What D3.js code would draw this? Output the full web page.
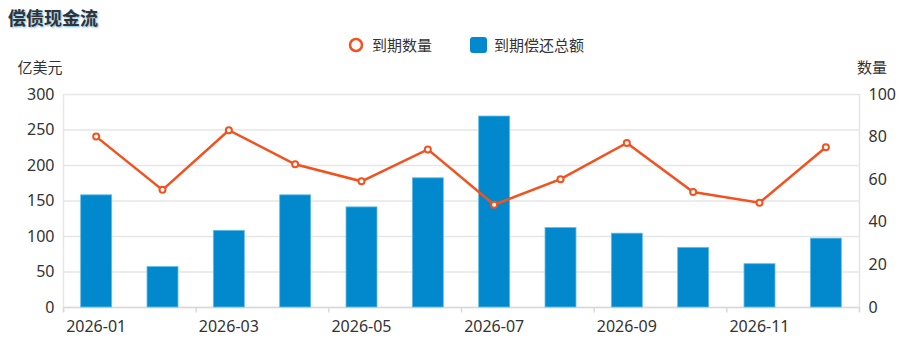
<!DOCTYPE html>
<html>
<head>
<meta charset="utf-8">
<script src="https://cdn.jsdelivr.net/npm/d3@7/dist/d3.min.js"></script>
<style>
  html, body { margin: 0; padding: 0; background: #fff; }
  svg { display: block; font-family: "Noto Sans", "Noto Sans CJK SC", sans-serif; }
</style>
</head>
<body>
<svg id="chart" width="920" height="339"></svg>
<script>
// Monthly maturities: category labels, repayment totals (亿美元) and bond counts
const months = ["2026-01","2026-02","2026-03","2026-04","2026-05","2026-06",
                "2026-07","2026-08","2026-09","2026-10","2026-11","2026-12"];
const repayTotals = [158, 57, 108, 158, 141, 182, 269, 112, 104, 84, 61, 97];
const dueCounts = [80, 55, 83, 67, 59, 74, 48, 60, 77, 54, 49, 75];
const leftTicks = [0, 50, 100, 150, 200, 250, 300];
const rightTicks = [0, 20, 40, 60, 80, 100];

const title = "偿债现金流";
const lineName = "到期数量";
const barName = "到期偿还总额";
const leftUnit = "亿美元";
const rightUnit = "数量";

const svg = d3.select("#chart");
const plot = { left: 63, right: 859, top: 94, bottom: 307 };

const x = d3.scaleBand().domain(months).range([plot.left, plot.right]).paddingInner(0).paddingOuter(0);
const yL = d3.scaleLinear().domain([0, 300]).range([plot.bottom, plot.top]);
const yR = d3.scaleLinear().domain([0, 100]).range([plot.bottom, plot.top]);

const textColor = "#333";
const gridColor = "#e6e6e6";
const barColor = "#0289cd";
const lineColor = "#f4511e";
const cjk = "'Noto Sans CJK SC', sans-serif";
const latin = "'Noto Sans', sans-serif";

// Title
svg.append("text")
  .attr("x", 8).attr("y", 25)
  .attr("font-size", 18).attr("font-weight", "bold")
  .attr("fill", "#333")
  .style("text-shadow", "1px 1px 2px rgba(60,160,215,0.75)")
  .style("font-family", cjk)
  .text(title);

// Legend
const legend = svg.append("g").style("font-family", cjk);
legend.append("circle").attr("cx", 356).attr("cy", 45).attr("r", 6)
  .attr("fill", "#fff").attr("stroke", lineColor).attr("stroke-width", 2.5);
legend.append("text").attr("x", 372).attr("y", 50.5).attr("font-size", 15)
  .attr("fill", textColor).text(lineName);
legend.append("rect").attr("x", 470).attr("y", 37).attr("width", 17).attr("height", 16).attr("rx", 3)
  .attr("fill", barColor);
legend.append("text").attr("x", 494).attr("y", 50.5).attr("font-size", 15)
  .attr("fill", textColor).text(barName);

// Axis units
svg.append("text").attr("x", 40).attr("y", 73).attr("text-anchor", "middle")
  .attr("font-size", 15).attr("fill", textColor)
  .style("font-family", cjk).text(leftUnit);
svg.append("text").attr("x", 872).attr("y", 73).attr("text-anchor", "middle")
  .attr("font-size", 15).attr("fill", textColor)
  .style("font-family", cjk).text(rightUnit);

// Horizontal grid lines
svg.append("g").selectAll("line").data(leftTicks).join("line")
  .attr("x1", plot.left).attr("x2", plot.right)
  .attr("y1", d => yL(d) + 0.5).attr("y2", d => yL(d) + 0.5)
  .attr("stroke", gridColor).attr("stroke-width", 1.5);

// Left axis
const gL = svg.append("g").attr("transform", `translate(${plot.left + 0.5},0)`)
  .call(d3.axisLeft(yL).tickValues(leftTicks).tickSize(0).tickPadding(9));
gL.select(".domain").attr("stroke", gridColor).attr("stroke-width", 1.5)
  .attr("d", `M0,${plot.top}V${plot.bottom + 5}`);
gL.selectAll("text").attr("font-size", 16).attr("fill", textColor)
  .style("font-family", latin);

// Right axis
const gR = svg.append("g").attr("transform", `translate(${plot.right + 0.5},0)`)
  .call(d3.axisRight(yR).tickValues(rightTicks).tickSize(0).tickPadding(9));
gR.select(".domain").attr("stroke", gridColor).attr("stroke-width", 1.5)
  .attr("d", `M0,${plot.top}V${plot.bottom + 5}`);
gR.selectAll("text").attr("font-size", 16).attr("fill", textColor)
  .style("font-family", latin);

// Bottom axis: ticks on every other band boundary, labels on every other band
const gB = svg.append("g").attr("transform", `translate(0,${plot.bottom + 0.5})`);
gB.append("line").attr("x1", plot.left).attr("x2", plot.right)
  .attr("stroke", "#d9d9d9").attr("stroke-width", 1.5);
const boundaryIdx = d3.range(0, months.length + 1, 2);
gB.selectAll("line.tick").data(boundaryIdx).join("line").attr("class", "tick")
  .attr("x1", i => (i < months.length ? x(months[i]) : plot.right) + 0.5)
  .attr("x2", i => (i < months.length ? x(months[i]) : plot.right) + 0.5)
  .attr("y1", 0).attr("y2", 5)
  .attr("stroke", "#d9d9d9").attr("stroke-width", 1.5);
gB.selectAll("text").data(months.filter((d, i) => i % 2 === 0)).join("text")
  .attr("x", d => x(d) + x.bandwidth() / 2).attr("y", 24)
  .attr("text-anchor", "middle").attr("font-size", 16).attr("fill", textColor)
  .style("font-family", latin)
  .text(d => d);

// Bars
const barW = 31;
svg.append("g").selectAll("rect").data(months).join("rect")
  .attr("x", d => x(d) + (x.bandwidth() - barW) / 2)
  .attr("width", barW)
  .attr("y", (d, i) => yL(repayTotals[i]))
  .attr("height", (d, i) => yL(0) - yL(repayTotals[i]))
  .attr("fill", barColor)
  .attr("stroke", "#66bde6").attr("stroke-width", 0.8);

// Line series
const pts = months.map((m, i) => [x(m) + x.bandwidth() / 2, yR(dueCounts[i])]);
svg.append("path").datum(pts)
  .attr("d", d3.line())
  .attr("fill", "none").attr("stroke", lineColor).attr("stroke-width", 2.5);
svg.append("g").selectAll("circle").data(pts).join("circle")
  .attr("cx", d => d[0]).attr("cy", d => d[1]).attr("r", 3)
  .attr("fill", "#fff").attr("stroke", lineColor).attr("stroke-width", 2);
</script>
</body>
</html>
